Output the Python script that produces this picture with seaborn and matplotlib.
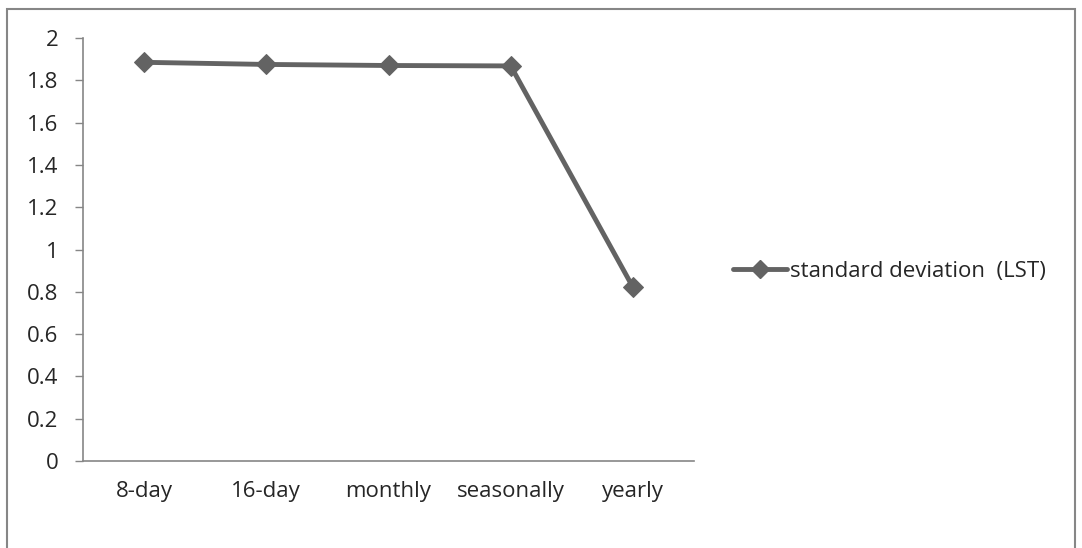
import matplotlib
matplotlib.use("Agg")
import matplotlib.pyplot as plt
import seaborn as sns
import pandas as pd
from matplotlib.patches import Rectangle
from matplotlib.lines import Line2D

categories = ["8-day", "16-day", "monthly", "seasonally", "yearly"]
std_lst = [1.885, 1.875, 1.870, 1.868, 0.822]
series_name = "standard deviation  (LST)"
y_ticks = [0, 0.2, 0.4, 0.6, 0.8, 1.0, 1.2, 1.4, 1.6, 1.8, 2.0]

sns.set_style("white")
plt.rcParams['font.family'] = ['Open Sans', 'DejaVu Sans']
FS = 16

W, H = 1082, 548
fig = plt.figure(figsize=(W / 100, H / 100), dpi=100)
ax = fig.add_axes([83 / W, 1 - 461 / H, (694 - 83) / W, (461 - 38) / H])

df = pd.DataFrame({"period": categories, "value": std_lst})
df["x"] = range(len(categories))
line_color = "#636363"
sns.lineplot(data=df, x="x", y="value", ax=ax, color=line_color, linewidth=3.5,
             marker="D", markersize=10.5, markeredgecolor=line_color,
             markerfacecolor=line_color, legend=False)

ax.set_xlim(-0.5, len(categories) - 0.5)
ax.set_ylim(0, 2)
ax.set_xlabel("")
ax.set_ylabel("")

ax.set_xticks(range(len(categories)))
ax.set_xticklabels(categories, fontsize=FS)
ax.set_xticks([i - 0.5 for i in range(len(categories) + 1)], minor=True)
ax.tick_params(axis="x", which="major", length=0, pad=14.5)
ax.tick_params(axis="x", which="minor", length=5.5, width=1, color="#868686", direction="out")

ax.set_yticks(y_ticks)
ax.set_yticklabels([f"{v:g}" for v in y_ticks], fontsize=FS)
ax.tick_params(axis="y", which="major", length=5.5, width=1, color="#868686", direction="out", pad=12, left=True)

for s in ["top", "right"]:
    ax.spines[s].set_visible(False)
for s in ["left", "bottom"]:
    ax.spines[s].set_color("#868686")
    ax.spines[s].set_linewidth(1.2)
ax.grid(False)

handle = Line2D([], [], color=line_color, linewidth=3.5, marker="D", markersize=9,
                markerfacecolor=line_color, markeredgecolor=line_color)
fig.legend([handle], [series_name], loc="center left", bbox_to_anchor=(733 / W, 1 - 271 / H),
           frameon=False, fontsize=FS, handlelength=2.45, handletextpad=0.1,
           borderaxespad=0, borderpad=0)

fig.patches.append(Rectangle((7 / W, -0.05), (1075 - 7) / W, 1.05 - 9 / H,
                             transform=fig.transFigure, fill=False,
                             edgecolor="#868686", linewidth=1.5))

fig.savefig("out.png", dpi=100, facecolor="white")
